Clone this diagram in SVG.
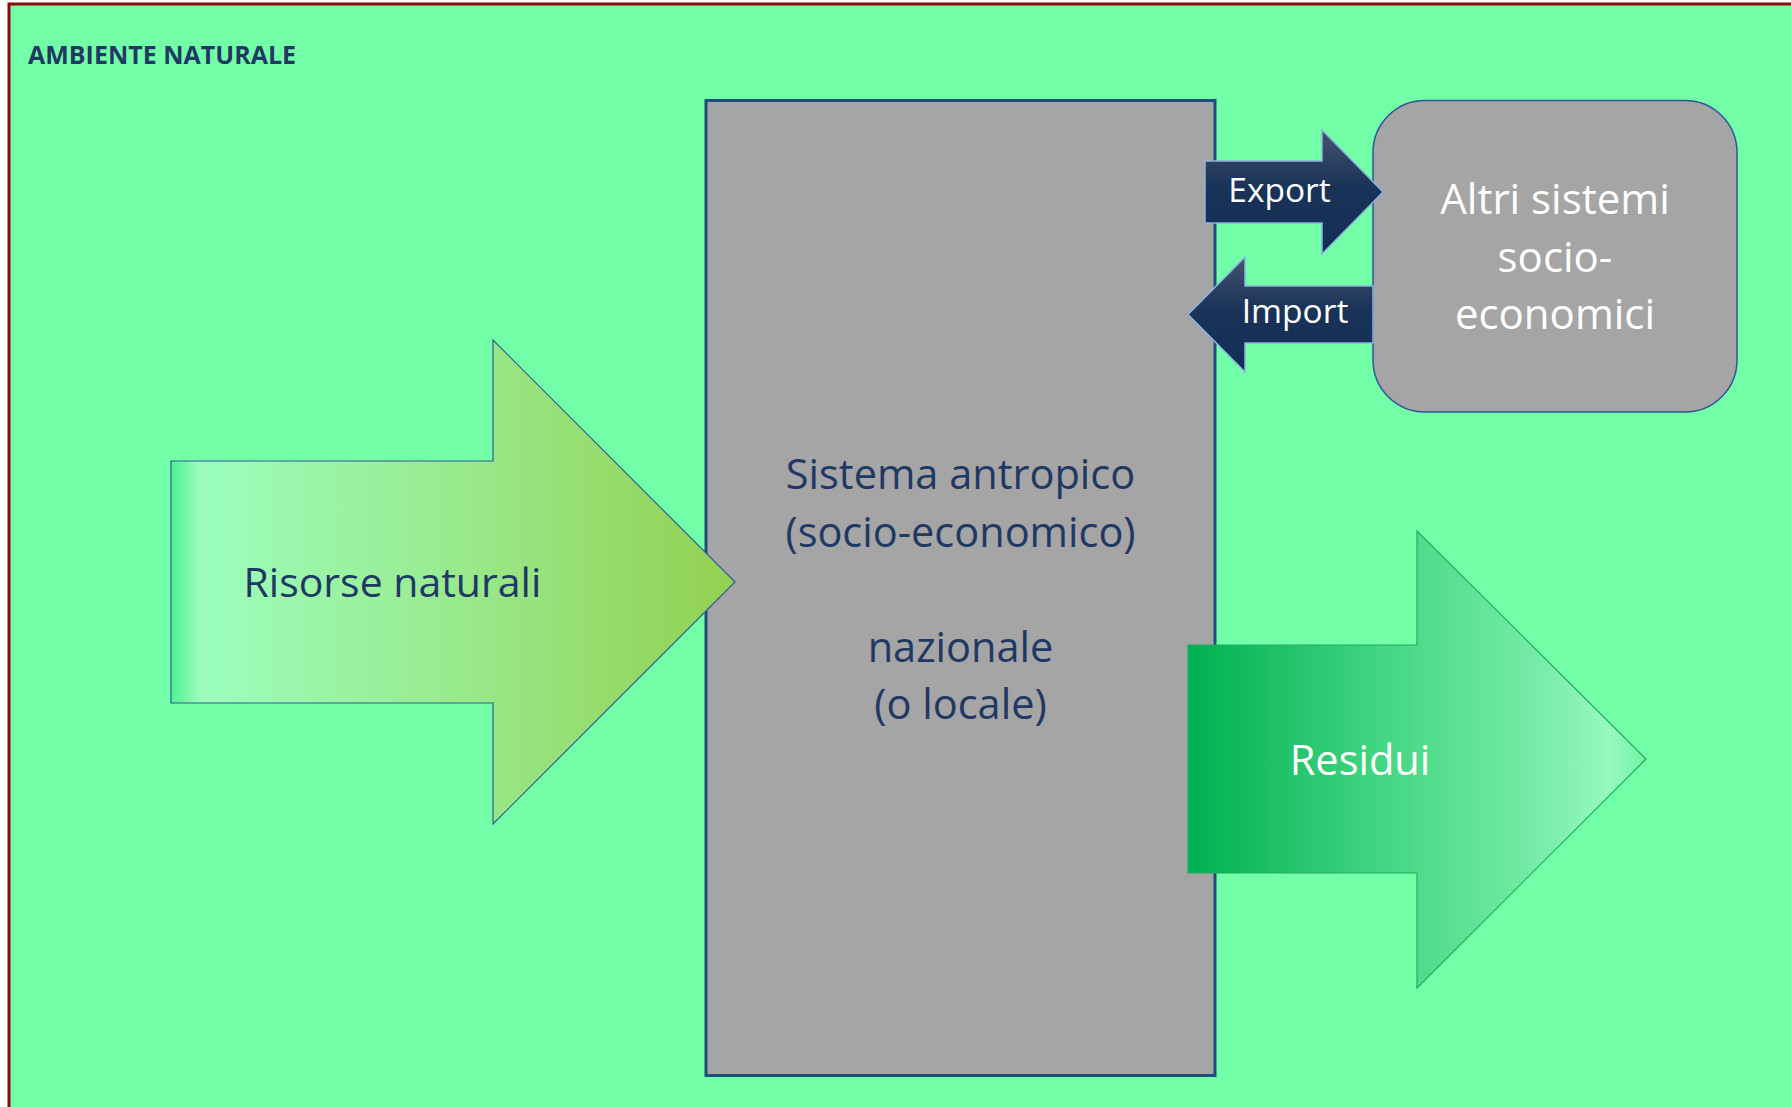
<svg xmlns="http://www.w3.org/2000/svg" width="1791" height="1107" viewBox="0 0 1791 1107">
  <defs>
    <linearGradient id="gRisorse" x1="171" y1="0" x2="735" y2="0" gradientUnits="userSpaceOnUse">
      <stop offset="0" stop-color="#4FF28E"/>
      <stop offset="0.05" stop-color="#9AFDBC"/>
      <stop offset="0.12" stop-color="#9CFBB6"/>
      <stop offset="0.55" stop-color="#98E888"/>
      <stop offset="1" stop-color="#92D050"/>
    </linearGradient>
    <linearGradient id="gResidui" x1="1188" y1="0" x2="1646" y2="0" gradientUnits="userSpaceOnUse">
      <stop offset="0" stop-color="#00B050"/>
      <stop offset="0.45" stop-color="#47D886"/>
      <stop offset="0.75" stop-color="#75EAA6"/>
      <stop offset="0.92" stop-color="#97F9C0"/>
      <stop offset="1" stop-color="#72F2A4"/>
    </linearGradient>
    <linearGradient id="gNavy" x1="0" y1="0" x2="0" y2="1">
      <stop offset="0" stop-color="#44546F"/>
      <stop offset="0.45" stop-color="#1A3358"/>
      <stop offset="1" stop-color="#132D55"/>
    </linearGradient>
    <style>
      .t { font-family: "Open Sans", "Noto Sans", "DejaVu Sans", sans-serif; }
      .dark { fill: #1F3864; }
      .white { fill: #FFFFFF; }
      .big { font-size: 41.5px; }
      .alt { font-size: 42px; }
      .small { font-size: 33.5px; }
      .mid { text-anchor: middle; }
      .navyArrow { fill: url(#gNavy); stroke: #8DB4E2; stroke-width: 1.5; }
    </style>
  </defs>

  <rect x="0" y="0" width="1791" height="1107" fill="#FFFFFF"/>
  <g id="ambiente">
    <rect x="9" y="4" width="1800" height="1200" fill="#72FFA8" stroke="#8C0A0A" stroke-width="3"/>
    <text class="t dark" x="28" y="64" font-size="25" font-weight="bold">AMBIENTE NATURALE</text>
  </g>

  <g id="sistema">
    <rect x="706" y="100.5" width="509" height="975" fill="#A5A5A5" stroke="#1F4E79" stroke-width="3"/>
    <text class="t dark big mid" x="960.5" y="489">Sistema antropico</text>
    <text class="t dark big mid" x="960.5" y="546.5">(socio-economico)</text>
    <text class="t dark big mid" x="960.5" y="661.5">nazionale</text>
    <text class="t dark big mid" x="960.5" y="719">(o locale)</text>
  </g>

  <g id="altri">
    <rect x="1373" y="100.5" width="364" height="311.5" rx="52" ry="52" fill="#A5A5A5" stroke="#2E5597" stroke-width="1.5"/>
    <text class="t white alt mid" x="1555" y="214">Altri sistemi</text>
    <text class="t white alt mid" x="1555" y="271.5">socio-</text>
    <text class="t white alt mid" x="1555" y="329">economici</text>
  </g>

  <g id="connectors">
    <g id="risorse">
      <path d="M171,461 H493 V340 L735,582 L493,824 V703 H171 Z" fill="url(#gRisorse)" stroke="#2E5C9A" stroke-width="1.2"/>
      <text class="t dark" x="243.5" y="597" font-size="41">Risorse naturali</text>
    </g>
    <g id="residui">
      <path d="M1188,645 H1417 V531 L1646,759 L1417,988 V873 H1188 Z" fill="url(#gResidui)" stroke="#1EAE5A" stroke-width="1.2"/>
      <text class="t white big mid" x="1360" y="775">Residui</text>
    </g>
    <g id="export">
      <path class="navyArrow" d="M1205,161 H1322 V130 L1383,192 L1322,254 V223 H1205 Z"/>
      <text class="t white small mid" x="1279.5" y="202">Export</text>
    </g>
    <g id="import">
      <path class="navyArrow" d="M1373,286 H1245 V257 L1188,314.5 L1245,372 V343 H1373 Z"/>
      <text class="t white small mid" x="1295" y="323">Import</text>
    </g>
  </g>
</svg>
